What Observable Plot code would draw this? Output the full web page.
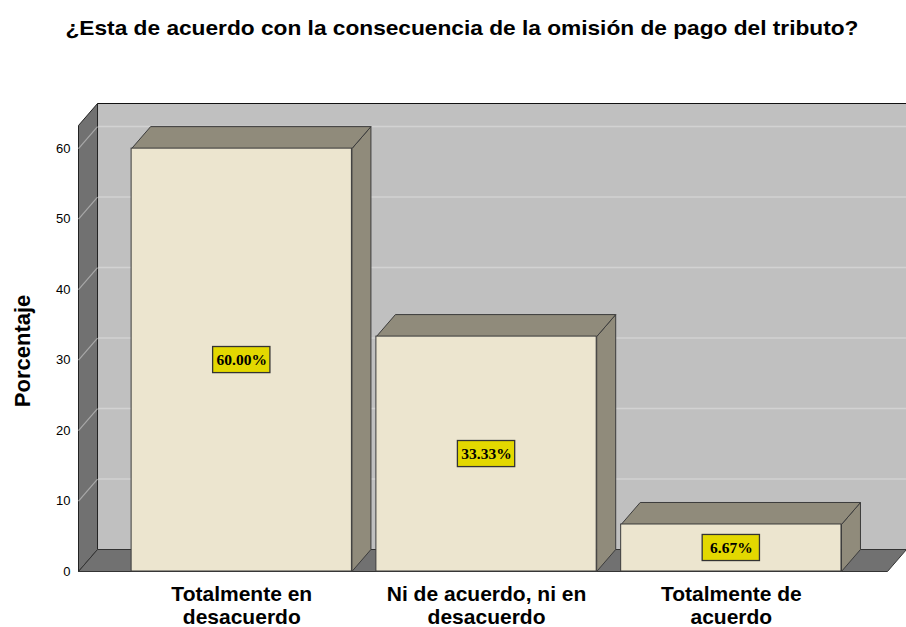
<!DOCTYPE html>
<html><head><meta charset="utf-8">
<script src="https://cdn.jsdelivr.net/npm/d3@7"></script>
<script src="https://cdn.jsdelivr.net/npm/@observablehq/plot@0.6"></script>
<style>
body{margin:0;background:#fff;}
#wrap{position:relative;width:906px;height:627px;overflow:hidden;}
#title{position:absolute;top:15.5px;left:9px;width:906px;text-align:center;font:bold 22.7px/23px "Liberation Sans",Arial,sans-serif;color:#000;white-space:nowrap;transform:scaleY(0.87);transform-origin:50% 19.5px;}
#wrap svg{position:absolute;top:0;left:0;}
</style></head><body>
<div id="wrap"><div id="title">¿Esta de acuerdo con la consecuencia de la omisión de pago del tributo?</div></div>
<script>
const categories = ["Totalmente en\ndesacuerdo", "Ni de acuerdo, ni en\ndesacuerdo", "Totalmente de\nacuerdo"];
const percentages = [60.00, 33.33, 6.67];
const valueLabels = ["60.00%", "33.33%", "6.67%"];
const yTicks = [0, 10, 20, 30, 40, 50, 60];

// 3D geometry (in data units)
const DX = 0.0777, DY = 3.12, HALF = 0.45;
const X0 = -0.667, X1 = 2.638, YMAX = 66.4;
const BX0 = X0 + DX, BX1 = X1 + DX;

function poly(id, pts) { return pts.concat([pts[0]]).map(([x, y]) => ({id, x, y})); }

const backWall = poly("back", [[BX0, DY], [BX1, DY], [BX1, YMAX], [BX0, YMAX]]);
const leftWall = poly("left", [[X0, 0], [X0, YMAX - DY], [BX0, YMAX], [BX0, DY]]);
const floor = poly("floor", [[X0, 0], [X1, 0], [BX1, DY], [BX0, DY]]);

const bars = percentages.map((v, i) => ({i, v, label: valueLabels[i], cat: categories[i]}));
const tops = bars.flatMap(b => poly("t" + b.i, [[b.i - HALF, b.v], [b.i + HALF, b.v], [b.i + HALF + DX, b.v + DY], [b.i - HALF + DX, b.v + DY]]));
const sides = bars.flatMap(b => poly("s" + b.i, [[b.i + HALF, 0], [b.i + HALF, b.v], [b.i + HALF + DX, b.v + DY], [b.i + HALF + DX, DY]]));
const grid = yTicks.filter(t => t > 0);

const chart = Plot.plot({
  width: 906, height: 627,
  marginLeft: 78, marginRight: 0, marginTop: 103, marginBottom: 56,
  style: {background: "transparent", fontFamily: "'Liberation Sans', Arial, sans-serif"},
  x: {domain: [X0, BX1], axis: null},
  y: {domain: [0, YMAX], axis: null},
  marks: [
    Plot.line(backWall, {x: "x", y: "y", z: "id", fill: "#c0c0c0", stroke: "none"}),
    Plot.link(grid, {x1: BX0, x2: BX1, y1: d => d + DY, y2: d => d + DY, stroke: "#d2d2d2", strokeWidth: 1.5}),
    Plot.line(leftWall, {x: "x", y: "y", z: "id", fill: "#717171", stroke: "#222", strokeWidth: 1}),
    Plot.link(grid, {x1: X0, x2: BX0, y1: d => d, y2: d => d + DY, stroke: "#a8a8a8", strokeWidth: 1.2}),
    Plot.line(floor, {x: "x", y: "y", z: "id", fill: "#717171", stroke: "#333", strokeWidth: 1}),
    Plot.link([0], {x1: BX0, x2: BX1, y1: YMAX, y2: YMAX, stroke: "#111", strokeWidth: 1.2}),
    Plot.line(sides, {x: "x", y: "y", z: "id", fill: "#908b7b", stroke: "#3c3c3c", strokeWidth: 1, strokeLinejoin: "miter"}),
    Plot.line(tops, {x: "x", y: "y", z: "id", fill: "#908b7b", stroke: "#3c3c3c", strokeWidth: 1, strokeLinejoin: "miter"}),
    Plot.rect(bars, {x1: d => d.i - HALF, x2: d => d.i + HALF, y1: 0, y2: "v", fill: "#ece5cf", stroke: "#3c3c3c", strokeWidth: 1}),
    Plot.rect(bars, {x1: d => d.i - 0.117, x2: d => d.i + 0.117, y1: d => d.v / 2 - 1.85, y2: d => d.v / 2 + 1.85, fill: "#e3d800", stroke: "#333", strokeWidth: 1.3}),
    Plot.text(bars, {x: "i", y: d => d.v / 2, text: "label", fontFamily: "'Liberation Serif', 'Times New Roman', serif", fontWeight: "bold", fontSize: 15.5, fill: "#000"}),
    Plot.text(yTicks, {x: X0, y: d => d, text: d => String(d), textAnchor: "end", dx: -8, fontSize: 13, fill: "#000"}),
    Plot.text(bars, {x: "i", y: 0, text: "cat", lineAnchor: "top", dy: 14, fontSize: 21, fontWeight: "bold", lineHeight: 1.07, fill: "#000"}),
    Plot.text(["Porcentaje"], {x: X0, y: 31.3, text: d => d, rotate: -90, dx: -56, fontSize: 22, fontWeight: "bold", fill: "#000"})
  ]
});
document.getElementById("wrap").appendChild(chart);
</script>
</body></html>
